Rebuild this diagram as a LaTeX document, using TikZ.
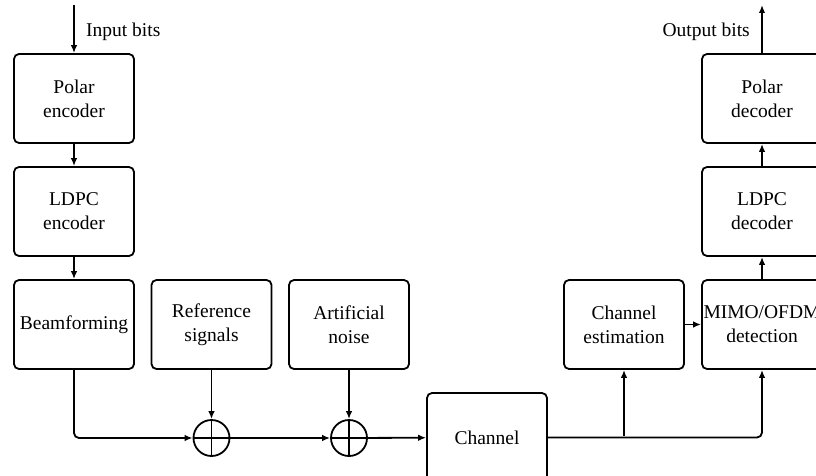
\documentclass[tikz,border=0pt]{standalone}
\usepackage{fontspec}
\setmainfont{Liberation Serif}
\usetikzlibrary{arrows.meta}
\begin{document}
\begin{tikzpicture}[x=1pt,y=-1pt,
  blk/.style={draw,line width=1.8pt,rounded corners=5pt,minimum width=120pt,minimum height=89pt,inner sep=0pt,align=center,font=\fontsize{19.5}{24}\selectfont},
  sum/.style={draw,circle,line width=1.8pt,minimum size=36pt,inner sep=0pt},
  lbl/.style={font=\fontsize{19.5}{24}\selectfont,inner sep=0pt},
  ln/.style={line width=1.5pt},
  arr/.style={line width=1.8pt,-{Latex[length=8pt,width=6.5pt]}}]
\useasboundingbox (0,0) rectangle (816,476);
\clip (0,0) rectangle (816,476);
\node[blk] (pe) at (74,98.5) {Polar\\encoder};
\node[blk] (le) at (74,211.5) {LDPC\\encoder};
\node[blk] (bf) at (74,324.5) {Beamforming};
\node[blk] (rs) at (211.5,324.5) {Reference\\signals};
\node[blk] (an) at (349,324.5) {Artificial\\noise};
\node[sum] (s1) at (211.5,438) {};
\node[sum] (s2) at (349,438) {};
\node[blk] (ch) at (487,437.5) {Channel};
\node[blk] (ce) at (624,324.5) {Channel\\estimation};
\node[blk] (md) at (762,324.5) {MIMO/OFDM\\detection};
\node[blk] (ld) at (762,211.5) {LDPC\\decoder};
\node[blk] (pd) at (762,98.5) {Polar\\decoder};
\coordinate (in) at (74,5);
\coordinate (out) at (762,5);
\coordinate (br) at (624,436);
\node[lbl,anchor=west] (inl) at (86,32) {Input bits};
\node[lbl,anchor=east] (outl) at (750,32) {Output bits};
% plus signs
\draw[ln] (s1.north) -- (s1.south) (s1.west) -- (s1.east);
\draw[ln] (s2.north) -- (s2.south) (s2.west) -- (s2.east);
% connectors
\draw[arr] (in) -- (pe.north);
\draw[arr] (pe) -- (le);
\draw[arr] (le) -- (bf);
\draw[arr,rounded corners=5pt] (bf.south) |- (s1.west);
\draw[arr] (rs) -- (s1);
\draw[arr] (an) -- (s2);
\draw[arr] (s1) -- (s2);
\draw[arr] (s2) -- (ch);
\draw[arr,rounded corners=5pt] (ch.east) -| (md.south);
\draw[arr] (br) -- (ce.south);
\draw[arr] (ce) -- (md);
\draw[arr] (md) -- (ld);
\draw[arr] (ld) -- (pd);
\draw[arr] (pd.north) -- (out);
\end{tikzpicture}
\end{document}
